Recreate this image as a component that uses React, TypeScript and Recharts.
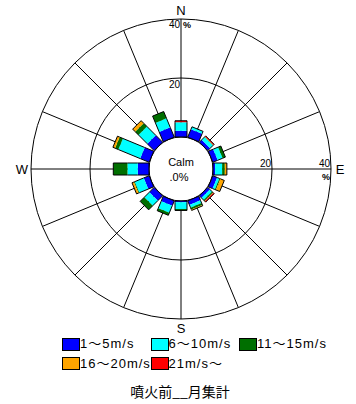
import React from "react";
import {
  Legend,
  PolarAngleAxis,
  PolarGrid,
  PolarRadiusAxis,
  RadialBar,
  RadialBarChart,
} from "recharts";

const DIRECTIONS = ["N", "NNE", "NE", "ENE", "E", "ESE", "SE", "SSE", "S", "SSW", "SW", "WSW", "W", "WNW", "NW", "NNW"];
const COMPASS_LABELS = ["N", "E", "S", "W"];

const SPEED_KEYS = ["s1", "s2", "s3", "s4", "s5"];
const SPEED_LABELS = ["1～5m/s", "6～10m/s", "11～15m/s", "16～20m/s", "21m/s～"];
const SPEED_COLORS = ["#0000ff", "#00ffff", "#006f00", "#ffa500", "#ff0000"];

// frequency (%) per direction, one list per speed class
const SPEED_1_5 = [2.1, 2.9, 1.1, 1.8, 0.7, 1.6, 1.0, 1.5, 0.4, 1.8, 2.3, 2.0, 3.8, 3.3, 3.3, 3.6];
const SPEED_6_10 = [2.9, 0.9, 1.4, 1.8, 2.4, 0.8, 1.0, 1.0, 2.3, 2.6, 2.4, 3.3, 3.5, 8.0, 4.2, 3.3];
const SPEED_11_15 = [0, 0, 0.1, 1.0, 0.9, 0.4, 0.5, 0.7, 0.5, 0.9, 2.0, 0.3, 4.8, 1.2, 1.6, 2.5];
const SPEED_16_20 = [0, 0, 0.1, 0, 0.7, 1.4, 0.1, 0.3, 0, 0, 0, 0.7, 0, 0.8, 1.2, 0];
const SPEED_21 = [0.5, 0, 0.3, 0, 0, 0, 0.4, 0, 0, 0, 0, 0, 0, 0, 0, 0];

const RADIUS_TICKS = [0, 20, 40];
const CALM = ".0%";
const TITLE = "噴火前__月集計";

const data = DIRECTIONS.map((dir, i) => ({
  dir,
  s1: SPEED_1_5[i],
  s2: SPEED_6_10[i],
  s3: SPEED_11_15[i],
  s4: SPEED_16_20[i],
  s5: SPEED_21[i],
}));

const CX = 181;
const CY = 169;
const HALF = 6;
const RADIAN = Math.PI / 180;
const FONT = "'Liberation Sans', 'Noto Sans CJK JP', sans-serif";

// bars are drawn as fixed-width rectangles along the direction the angle axis gives
function makeBarShape(band: number) {
  return (props: any) => {
    const { cx, cy, innerRadius, outerRadius, startAngle } = props;
    const row = props.payload ?? props;
    if (!(outerRadius - innerRadius > 0.05)) return <g />;
    const ang = startAngle * RADIAN;
    const ux = Math.cos(-ang);
    const uy = Math.sin(-ang);
    const pt = (r: number, s: number) => [cx + ux * r - s * uy * HALF, cy + uy * r + s * ux * HALF];
    const a = pt(innerRadius, -1);
    const b = pt(outerRadius, -1);
    const c = pt(outerRadius, 1);
    const d = pt(innerRadius, 1);
    const first = SPEED_KEYS.slice(0, band).every((k) => !row[k]);
    const last = SPEED_KEYS.slice(band + 1).every((k) => !row[k]);
    const edge = (p: number[], q: number[]) => (
      <line x1={p[0]} y1={p[1]} x2={q[0]} y2={q[1]} stroke="#000" strokeWidth={1} />
    );
    return (
      <g>
        <polygon points={[a, b, c, d].map((p) => p.join(",")).join(" ")} fill={SPEED_COLORS[band]} />
        {edge(a, b)}
        {edge(d, c)}
        {last && edge(b, c)}
        {first && edge(a, d)}
      </g>
    );
  };
}

const AngleTick = ({ x, y, payload }: any) =>
  COMPASS_LABELS.includes(payload.value) ? (
    <text x={x} y={y} textAnchor="middle" dominantBaseline="central" fontSize={13} fontFamily={FONT} fill="#000">
      {payload.value}
    </text>
  ) : (
    <g />
  );

// radius labels on the north axis, mirrored onto the east axis
const RadiusTick = ({ x, y, payload }: any) => {
  if (payload.value === 0) return <g />;
  const r = CY - y;
  const ex = CX + r;
  const isMax = payload.value === 40;
  return (
    <g fontSize={10} fontFamily={FONT} fill="#000">
      <text x={x - 1} y={y + (isMax ? 9 : 10)} textAnchor="end">
        {payload.value}
      </text>
      {isMax && (
        <text x={x + 2} y={y + 9} fontWeight="bold" fontSize={9}>
          %
        </text>
      )}
      <text x={ex - 1} y={CY - 2} textAnchor="end">
        {payload.value}
      </text>
      {isMax && (
        <text x={ex - 1} y={CY + 11} textAnchor="end" fontWeight="bold" fontSize={9}>
          %
        </text>
      )}
    </g>
  );
};

const LegendContent = () => (
  <div style={{ position: "relative", width: 356, height: 66, fontFamily: FONT, fontSize: 13, color: "#000" }}>
    {SPEED_LABELS.map((label, i) => {
      const left = 62 + (i % 3) * 88.5;
      const top = Math.floor(i / 3) * 19.5;
      return (
        <div key={label} style={{ position: "absolute", left, top, display: "flex", alignItems: "center", height: 12 }}>
          <span
            style={{
              width: 16,
              height: 11,
              background: SPEED_COLORS[i],
              border: "1px solid #000",
              display: "inline-block",
            }}
          />
          <span style={{ letterSpacing: 1, whiteSpace: "nowrap", lineHeight: "12px" }}>{label}</span>
        </div>
      );
    })}
    <div
      style={{
        position: "absolute",
        top: 44,
        left: 0,
        width: 360,
        textAlign: "center",
        fontFamily: "'Noto Sans CJK JP', sans-serif",
        fontSize: 14,
        lineHeight: "18px",
      }}
    >
      {TITLE}
    </div>
  </div>
);

export default function App() {
  return (
    <div style={{ position: "absolute", left: 0, top: 0, width: 356, height: 404, background: "#fff" }}>
      <RadialBarChart
        width={356}
        height={404}
        data={data}
        layout="centric"
        cx={CX}
        cy={CY}
        innerRadius={32}
        outerRadius={150}
        startAngle={90}
        endAngle={-270}
        barCategoryGap="0%"
        margin={{ top: 0, right: 0, bottom: 0, left: 0 }}
      >
        <PolarGrid gridType="circle" stroke="#000" strokeOpacity={1} />
        <PolarAngleAxis
          dataKey="dir"
          type="category"
          axisLine={false}
          tickLine={false}
          tickSize={9}
          tick={AngleTick}
        />
        <PolarRadiusAxis
          type="number"
          angle={90}
          domain={[0, 40]}
          ticks={RADIUS_TICKS}
          axisLine={false}
          tick={RadiusTick}
        />
        {SPEED_KEYS.map((key, i) => (
          <RadialBar
            key={key}
            dataKey={key}
            name={SPEED_LABELS[i]}
            stackId="wind"
            fill={SPEED_COLORS[i]}
            shape={makeBarShape(i)}
            legendType="none"
            isAnimationActive={false}
          />
        ))}
        <Legend
          content={LegendContent}
          wrapperStyle={{ position: "absolute", top: 338, left: 0, width: 356, height: 66 }}
        />
        <g fontFamily={FONT} fill="#000" fontSize={11}>
          <text x={CX} y={166} textAnchor="middle">
            Calm
          </text>
          <text x={CX - 2} y={181} textAnchor="middle">
            {CALM}
          </text>
        </g>
      </RadialBarChart>
    </div>
  );
}
